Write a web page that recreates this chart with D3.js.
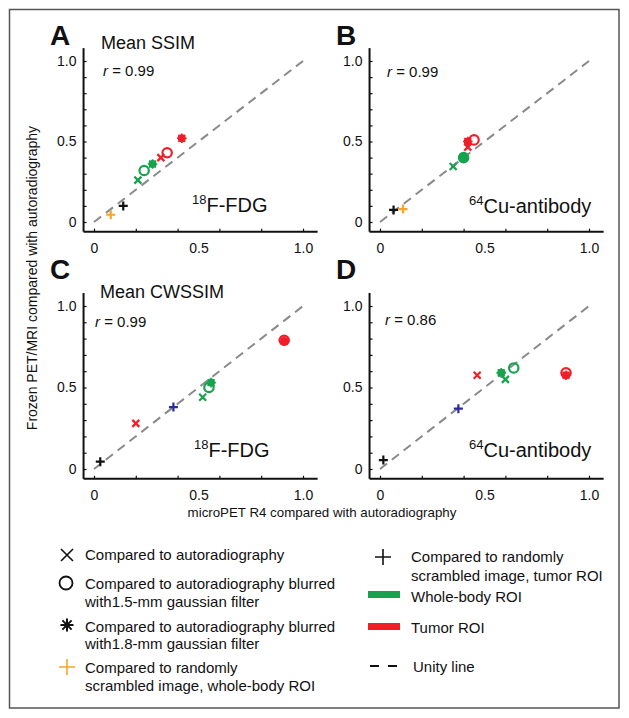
<!DOCTYPE html>
<html><head><meta charset="utf-8">
<script src="https://cdn.jsdelivr.net/npm/d3@7"></script>
<style>body{margin:0;background:#fff}svg{display:block;font-family:"Liberation Sans",Arial,sans-serif}</style>
</head><body><svg id="c" width="629" height="718"></svg>
<script>
// ---- data ----
const seriesKeys = ["wbCross","wbCircle","wbStar","tuCross","tuCircle","tuStar","scrWB","scrTumor"];
const seriesMarker = ["cross","circle","star","cross","circle","star","plus","plus"];
const seriesROI = ["wb","wb","wb","tumor","tumor","tumor","scrWB","scrTumor"];
const panelA_x = [0.21,0.24,0.28,0.32,0.35,0.42,0.08,0.14];
const panelA_y = [0.26,0.32,0.36,0.40,0.43,0.52,0.045,0.10];
const panelB_x = [0.35,0.40,0.40,0.42,0.45,0.42,0.11,0.065];
const panelB_y = [0.345,0.40,0.40,0.465,0.51,0.50,0.08,0.075];
const panelC_x = [0.52,0.55,0.56,0.20,0.91,0.91,0.38,0.03];
const panelC_y = [0.44,0.50,0.53,0.28,0.79,0.785,0.38,0.045];
const panelD_x = [0.60,0.64,0.58,0.465,0.89,0.89,0.375,0.016];
const panelD_y = [0.55,0.62,0.59,0.575,0.59,0.575,0.37,0.055];
const panelLetters = ["A","B","C","D"];
const panelTitles = ["Mean SSIM","","Mean CWSSIM",""];
const panelR = ["0.99","0.99","0.99","0.86"];
const panelTracerSup = ["18","64","18","64"];
const panelTracer = ["F-FDG","Cu-antibody","F-FDG","Cu-antibody"];
const yTickValues = [0,0.1,0.2,0.3,0.4,0.5,0.6,0.7,0.8,0.9,1.0];
const xTickValues = [0,0.2,0.4,0.6,0.8,1.0];
const tickLabelValues = [0,0.5,1.0];
const tickLabels = ["0","0.5","1.0"];
const unityLine = [[0,0],[1,1]];
const yTitle = "Frozen PET/MRI compared with autoradiography";
const xTitle = "microPET R4 compared with autoradiography";
const legendLeft = [
  {sym:"cross", lines:["Compared to autoradiography"]},
  {sym:"circle", lines:["Compared to autoradiography blurred","with1.5-mm gaussian filter"]},
  {sym:"star", lines:["Compared to autoradiography blurred","with1.8-mm gaussian filter"]},
  {sym:"plusOrange", lines:["Compared to randomly","scrambled image, whole-body ROI"]}
];
const legendRight = [
  {sym:"plusBlack", lines:["Compared to randomly","scrambled image, tumor ROI"]},
  {sym:"greenBar", lines:["Whole-body ROI"]},
  {sym:"redBar", lines:["Tumor ROI"]},
  {sym:"dash", lines:["Unity line"]}
];

// ---- styles ----
const RED="#f01e28", GREEN="#17a34d", ORANGE="#f7a42a", BLUE="#2b2ba0", BLACK="#111";
const svg = d3.select("#c");
svg.append("rect").attr("x",9.5).attr("y",9.5).attr("width",609.5).attr("height",698.5)
  .attr("fill","none").attr("stroke","#555").attr("stroke-width",1.5);

const panels = [
  {xs:panelA_x, ys:panelA_y, xr:[94,303], yr:[222,61], scr:ORANGE, lx:50, ly:45, tx:101, ty:49, rx:103, ry:76, fx:192, fy:212},
  {xs:panelB_x, ys:panelB_y, xr:[380,589], yr:[222,61], scr:ORANGE, lx:336, ly:45, tx:0, ty:0, rx:387, ry:77, fx:469, fy:213},
  {xs:panelC_x, ys:panelC_y, xr:[94,303], yr:[469,306], scr:BLUE, lx:50, ly:279, tx:100, ty:298, rx:95, ry:327, fx:194, fy:457},
  {xs:panelD_x, ys:panelD_y, xr:[380,589], yr:[469,306], scr:BLUE, lx:336, ly:279, tx:0, ty:0, rx:385, ry:325, fx:469, fy:457}
];

function drawMarker(g, type, cx, cy, color, s){
  if(type==="cross"){
    g.append("path").attr("d",`M${cx-s},${cy-s}L${cx+s},${cy+s}M${cx-s},${cy+s}L${cx+s},${cy-s}`)
      .attr("stroke",color).attr("stroke-width",2.2).attr("fill","none");
  } else if(type==="circle"){
    g.append("circle").attr("cx",cx).attr("cy",cy).attr("r",s+0.7).attr("fill","none")
      .attr("stroke",color).attr("stroke-width",2.2);
  } else if(type==="star"){
    g.append("circle").attr("cx",cx).attr("cy",cy).attr("r",s*0.95).attr("fill",color);
    let d="";
    for(let k=0;k<4;k++){const a=k*Math.PI/4; d+=`M${cx-s*1.15*Math.cos(a)},${cy-s*1.15*Math.sin(a)}L${cx+s*1.15*Math.cos(a)},${cy+s*1.15*Math.sin(a)}`;}
    g.append("path").attr("d",d).attr("stroke",color).attr("stroke-width",1.6).attr("fill","none");
  } else if(type==="plus"){
    g.append("path").attr("d",`M${cx-s},${cy}L${cx+s},${cy}M${cx},${cy-s}L${cx},${cy+s}`)
      .attr("stroke",color).attr("stroke-width",2.2).attr("fill","none");
  }
}

panels.forEach((p,i)=>{
  const x = d3.scaleLinear().domain([0,1]).range(p.xr);
  const y = d3.scaleLinear().domain([0,1]).range(p.yr);
  const g = svg.append("g");
  const x0 = x(-0.05), yb = y(-0.06);
  const ya = g.append("g").attr("transform",`translate(${x0},0)`)
    .call(d3.axisLeft(y).tickValues(yTickValues).tickSize(-3).tickFormat(""));
  ya.select(".domain").remove();
  ya.selectAll("line").attr("stroke","#111").attr("stroke-width",1.2);
  const yl = g.append("g").attr("transform",`translate(${x0},0)`)
    .call(d3.axisLeft(y).tickValues(tickLabelValues).tickSize(0).tickPadding(7)
      .tickFormat((d,j)=>tickLabels[j]));
  yl.select(".domain").remove();
  yl.selectAll("text").attr("font-size",14).attr("font-family","Liberation Sans, Arial").attr("fill","#111");
  const xa = g.append("g").attr("transform",`translate(0,${yb})`)
    .call(d3.axisBottom(x).tickValues(xTickValues).tickSize(-3).tickFormat(""));
  xa.select(".domain").remove();
  xa.selectAll("line").attr("stroke","#111").attr("stroke-width",1.2);
  const xl = g.append("g").attr("transform",`translate(0,${yb})`)
    .call(d3.axisBottom(x).tickValues(tickLabelValues).tickSize(0).tickPadding(11)
      .tickFormat((d,j)=>tickLabels[j]));
  xl.select(".domain").remove();
  xl.selectAll("text").attr("font-size",14).attr("font-family","Liberation Sans, Arial").attr("fill","#111");
  g.append("line").attr("x1",x0).attr("x2",x0).attr("y1",y(1.08)).attr("y2",yb)
    .attr("stroke","#111").attr("stroke-width",2);
  g.append("line").attr("x1",x0).attr("x2",x(1.07)).attr("y1",yb).attr("y2",yb)
    .attr("stroke","#111").attr("stroke-width",2);
  g.append("path").datum(unityLine).attr("d",d3.line().x(d=>x(d[0])).y(d=>y(d[1])))
    .attr("stroke","#8a8a8a").attr("stroke-width",2).attr("stroke-dasharray","9,6").attr("fill","none");
  const colorOf = r => r==="wb"?GREEN : r==="tumor"?RED : r==="scrWB"?p.scr : BLACK;
  seriesKeys.forEach((k,j)=>{
    const m = seriesMarker[j];
    const s = m==="cross"?3.5 : m==="circle"?4 : m==="star"?4.2 : 4.5;
    drawMarker(g, m, x(p.xs[j]), y(p.ys[j]), colorOf(seriesROI[j]), s);
  });
  g.append("text").attr("x",p.lx).attr("y",p.ly).attr("font-size",28).attr("font-weight","bold")
    .attr("fill","#111").text(panelLetters[i]);
  if(panelTitles[i]) g.append("text").attr("x",p.tx).attr("y",p.ty).attr("font-size",18)
    .attr("fill","#111").text(panelTitles[i]);
  const rt = g.append("text").attr("x",p.rx).attr("y",p.ry).attr("font-size",15).attr("fill","#111");
  rt.append("tspan").attr("font-style","italic").text("r");
  rt.append("tspan").text(" = "+panelR[i]);
  const ft = g.append("text").attr("x",p.fx).attr("y",p.fy).attr("font-size",20).attr("fill","#111");
  ft.append("tspan").attr("font-size",13).attr("dy",-8).text(panelTracerSup[i]);
  ft.append("tspan").attr("dy",8).text(panelTracer[i]);
});

svg.append("text").attr("transform","translate(37,278) rotate(-90)").attr("text-anchor","middle")
  .attr("font-size",14).attr("fill","#111").text(yTitle);
svg.append("text").attr("x",322).attr("y",517).attr("text-anchor","middle")
  .attr("font-size",13.3).attr("fill","#111").text(xTitle);

const lg = svg.append("g").attr("font-size",15).attr("fill","#111");
const leftY = [[560],[588.5,606.5],[631.5,648.5],[672.5,690.5]];
const leftSymY = [555,583,625,667];
legendLeft.forEach((e,i)=>{
  e.lines.forEach((t,j)=> lg.append("text").attr("x",85).attr("y",leftY[i][j]).text(t));
  const cx=67, cy=leftSymY[i];
  if(e.sym==="cross") lg.append("path").attr("d",`M${cx-6},${cy-6}L${cx+6},${cy+6}M${cx-6},${cy+6}L${cx+6},${cy-6}`).attr("stroke","#111").attr("stroke-width",1.6);
  if(e.sym==="circle") lg.append("circle").attr("cx",cx-1).attr("cy",cy).attr("r",6.5).attr("fill","none").attr("stroke","#111").attr("stroke-width",1.8);
  if(e.sym==="star"){let d="";for(let k=0;k<4;k++){const a=k*Math.PI/4;d+=`M${cx-6.5*Math.cos(a)},${cy-6.5*Math.sin(a)}L${cx+6.5*Math.cos(a)},${cy+6.5*Math.sin(a)}`;}
    lg.append("path").attr("d",d).attr("stroke","#111").attr("stroke-width",2);
    lg.append("circle").attr("cx",cx).attr("cy",cy).attr("r",2.6).attr("fill","#111");}
  if(e.sym==="plusOrange") lg.append("path").attr("d",`M${cx-8},${cy}L${cx+8},${cy}M${cx},${cy-8}L${cx},${cy+8}`).attr("stroke",ORANGE).attr("stroke-width",1.6);
});
const rightY = [[562,580.5],[601.5],[632.5],[671.5]];
legendRight.forEach((e,i)=>{
  e.lines.forEach((t,j)=> lg.append("text").attr("x",e.sym==="dash"?413:411).attr("y",rightY[i][j]).text(t));
  if(e.sym==="plusBlack") lg.append("path").attr("d",`M375,557L391,557M383,549L383,565`).attr("stroke","#111").attr("stroke-width",1.6);
  if(e.sym==="greenBar") lg.append("rect").attr("x",368).attr("y",591).attr("width",32).attr("height",7).attr("fill",GREEN);
  if(e.sym==="redBar") lg.append("rect").attr("x",368).attr("y",623).attr("width",32).attr("height",7).attr("fill",RED);
  if(e.sym==="dash") lg.append("path").attr("d","M370,666L379,666M388,666L397,666").attr("stroke","#111").attr("stroke-width",2);
});
</script></body></html>
